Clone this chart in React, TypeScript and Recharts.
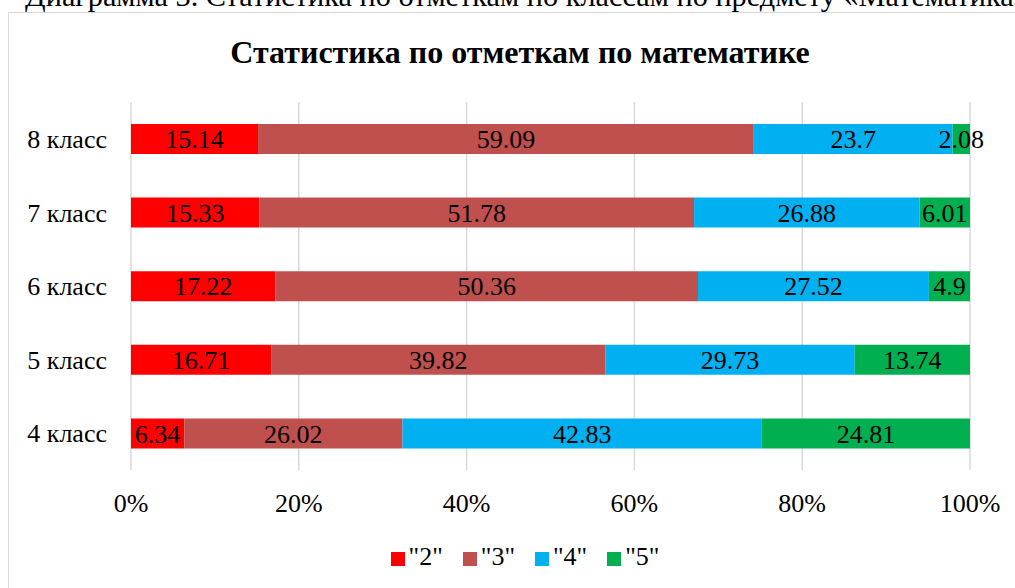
import React from "react";
import { BarChart, Bar, XAxis, YAxis, CartesianGrid, Legend, LabelList } from "recharts";

const categories = ["8 класс", "7 класс", "6 класс", "5 класс", "4 класс"];
const grade2 = [15.14, 15.33, 17.22, 16.71, 6.34];
const grade3 = [59.09, 51.78, 50.36, 39.82, 26.02];
const grade4 = [23.7, 26.88, 27.52, 29.73, 42.83];
const grade5 = [2.08, 6.01, 4.9, 13.74, 24.81];
const xTicks = [0, 20, 40, 60, 80, 100];
const seriesNames = ['"2"', '"3"', '"4"', '"5"'];
const colors = ["#FF0000", "#C0504D", "#00B0F0", "#00B050"];

const data = categories.map((c, i) => ({
  name: c,
  g2: grade2[i],
  g3: grade3[i],
  g4: grade4[i],
  g5: grade5[i],
}));

const FONT = "'Liberation Serif', 'Times New Roman', serif";
const FS = 26;
const keys = ["g2", "g3", "g4", "g5"];
const css = `
.recharts-wrapper, .recharts-wrapper text, .recharts-legend-wrapper, .recharts-legend-item-text {
  font-family: 'Liberation Serif', 'Times New Roman', serif !important;
}
.recharts-wrapper text { font-size: ${FS}px; }
.recharts-legend-item { margin-right: 20px !important; }
`;

export default function App() {
  return (
    <div style={{ position: "absolute", left: 0, top: 0, width: 1015, height: 588, overflow: "hidden", background: "#fff", fontFamily: FONT }}>
      <style>{css}</style>
      <div style={{ position: "absolute", left: 25, top: -20, whiteSpace: "nowrap", fontSize: 30.3, color: "#000", lineHeight: "32px" }}>
        Диаграмма 3. Статистика по отметкам по классам по предмету «Математика»
      </div>
      <div style={{ position: "absolute", left: 8, top: 12, width: 1100, height: 700, border: "1px solid #D9D9D9", boxSizing: "border-box" }} />
      <div style={{ position: "absolute", left: 0, top: 33, width: 1040, textAlign: "center", fontSize: 32, fontWeight: "bold", color: "#000", lineHeight: "38px" }}>
        Статистика по отметкам по математике
      </div>
      <div style={{ position: "absolute", left: 0, top: 0 }}>
        <BarChart
          width={1015}
          height={588}
          data={data}
          layout="vertical"
          margin={{ top: 102, right: 45, left: 0, bottom: 16 }}
          barSize={30}
        >
          <CartesianGrid horizontal={false} stroke="#D9D9D9" strokeWidth={1.5} />
          <XAxis
            type="number"
            domain={[0, 100]}
            ticks={xTicks}
            tickFormatter={(v: number) => `${v}%`}
            axisLine={false}
            tickLine={false}
            tickMargin={18}
            height={72}
            allowDataOverflow
            tick={{ fill: "#000", fontSize: FS, fontFamily: FONT }}
          />
          <YAxis
            type="category"
            dataKey="name"
            width={131}
            axisLine={false}
            tickLine={false}
            tickMargin={18}
            tick={{ fill: "#000", fontSize: FS, fontFamily: FONT }}
          />
          <Legend
            verticalAlign="bottom"
            align="center"
            iconType="square"
            iconSize={14}
            wrapperStyle={{ fontFamily: FONT, fontSize: FS, color: "#000", paddingLeft: 50, lineHeight: "30px" }}
            formatter={(value: string) => <span style={{ color: "#000", fontFamily: FONT, fontSize: FS }}>{value}</span>}
          />
          {keys.map((k, i) => (
            <Bar key={k} dataKey={k} name={seriesNames[i]} stackId="a" fill={colors[i]} isAnimationActive={false}>
              <LabelList dataKey={k} position="center" fill="#000" fontSize={FS} fontFamily={FONT} style={{ fontFamily: FONT, fontSize: FS }} />
            </Bar>
          ))}
        </BarChart>
      </div>
    </div>
  );
}
